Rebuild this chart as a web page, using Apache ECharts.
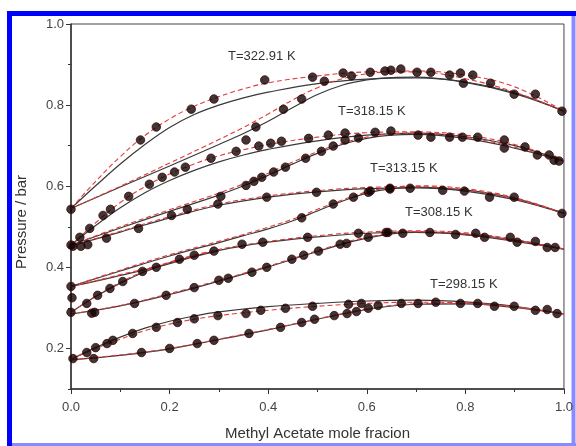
<!DOCTYPE html>
<html><head><meta charset="utf-8">
<script src="https://cdn.jsdelivr.net/npm/echarts@6/dist/echarts.min.js"></script>
<style>html,body{margin:0;padding:0;background:#fff}#c{width:576px;height:446px}</style>
</head><body><div id="c"></div>
<script>
// ---- axis ticks ----
const xTicks = [0, 0.2, 0.4, 0.6, 0.8, 1.0];
const yLabels = [0.2, 0.4, 0.6, 0.8, 1.0];
const yMinor = [0.1, 0.3, 0.5, 0.7, 0.9];
const tempLabels = ['T=322.91 K', 'T=318.15 K', 'T=313.15 K', 'T=308.15 K', 'T=298.15 K'];

// ---- T = 322.91 K ----
const pts322a = [[0,0.543],[0.141,0.714],[0.173,0.746],[0.244,0.790],[0.290,0.815],[0.393,0.862],[0.49,0.869],[0.607,0.881],[0.637,0.884],[0.669,0.889],[0.702,0.881],[0.730,0.881],[0.768,0.874],[0.79,0.879],[0.815,0.874],[0.942,0.827],[0.996,0.785]];
const sol322a = [[0,0.545],[0.05,0.601],[0.1,0.655],[0.15,0.703],[0.2,0.745],[0.25,0.777],[0.3,0.800],[0.35,0.818],[0.4,0.832],[0.5,0.853],[0.6,0.864],[0.7,0.867],[0.8,0.857],[0.9,0.83],[1.0,0.785]];
const das322a = [[0,0.545],[0.05,0.612],[0.1,0.673],[0.15,0.725],[0.2,0.766],[0.25,0.797],[0.3,0.821],[0.35,0.840],[0.4,0.855],[0.5,0.872],[0.6,0.882],[0.7,0.884],[0.8,0.874],[0.9,0.845],[1.0,0.785]];
const pts322b = [[0.355,0.714],[0.375,0.746],[0.431,0.79],[0.468,0.815],[0.514,0.859],[0.552,0.879],[0.569,0.872],[0.649,0.886],[0.796,0.854],[0.851,0.854],[0.899,0.827]];
const sol322b = [[0,0.545],[0.1,0.598],[0.2,0.65],[0.3,0.703],[0.35,0.730],[0.4,0.760],[0.45,0.794],[0.5,0.826],[0.55,0.849],[0.6,0.862],[0.65,0.868],[0.7,0.869],[0.8,0.856],[0.9,0.828],[1.0,0.785]];
const das322b = [[0,0.545],[0.1,0.600],[0.2,0.657],[0.3,0.715],[0.35,0.745],[0.4,0.778],[0.45,0.813],[0.5,0.843],[0.55,0.865],[0.6,0.877],[0.65,0.882],[0.7,0.882],[0.8,0.865],[0.9,0.832],[1.0,0.785]];

// ---- T = 318.15 K ----
const pts318a = [[0,0.455],[0.018,0.474],[0.038,0.496],[0.065,0.528],[0.08,0.543],[0.117,0.575],[0.159,0.605],[0.185,0.622],[0.21,0.635],[0.232,0.647],[0.284,0.669],[0.335,0.686],[0.381,0.699],[0.405,0.706],[0.427,0.711],[0.482,0.718],[0.522,0.726],[0.556,0.731],[0.617,0.733],[0.649,0.736],[0.704,0.726],[0.768,0.721],[0.825,0.721],[0.879,0.714],[0.921,0.697],[0.97,0.677],[0.99,0.662]];
const sol318a = [[0,0.455],[0.05,0.503],[0.1,0.547],[0.15,0.584],[0.2,0.614],[0.25,0.639],[0.3,0.66],[0.35,0.677],[0.4,0.691],[0.5,0.712],[0.6,0.726],[0.7,0.731],[0.8,0.722],[0.9,0.70],[1.0,0.662]];
const das318a = [[0,0.455],[0.05,0.51],[0.1,0.56],[0.15,0.599],[0.2,0.630],[0.25,0.655],[0.3,0.675],[0.35,0.690],[0.4,0.703],[0.5,0.721],[0.6,0.732],[0.7,0.734],[0.8,0.726],[0.9,0.703],[1.0,0.662]];
const pts318b = [[0.304,0.575],[0.355,0.602],[0.371,0.612],[0.387,0.622],[0.411,0.635],[0.435,0.647],[0.476,0.669],[0.508,0.686],[0.532,0.699],[0.556,0.714],[0.583,0.719],[0.73,0.721],[0.794,0.721],[0.879,0.694],[0.946,0.677],[0.98,0.664]];
const sol318b = [[0,0.455],[0.1,0.497],[0.2,0.538],[0.3,0.578],[0.35,0.601],[0.4,0.627],[0.45,0.655],[0.5,0.681],[0.55,0.703],[0.6,0.718],[0.65,0.726],[0.7,0.728],[0.8,0.718],[0.9,0.694],[1.0,0.662]];
const das318b = [[0,0.455],[0.1,0.50],[0.2,0.542],[0.3,0.583],[0.35,0.606],[0.4,0.632],[0.45,0.66],[0.5,0.685],[0.55,0.706],[0.6,0.721],[0.65,0.729],[0.7,0.731],[0.8,0.721],[0.9,0.696],[1.0,0.662]];

// ---- T = 313.15 K ----
const pts313a = [[0.004,0.452],[0.02,0.452],[0.034,0.456],[0.072,0.472],[0.137,0.496],[0.204,0.528],[0.236,0.543],[0.298,0.556],[0.397,0.573],[0.498,0.585],[0.603,0.585],[0.647,0.593],[0.688,0.595],[0.754,0.59],[0.798,0.588],[0.849,0.573],[0.899,0.573],[0.996,0.533]];
const sol313a = [[0,0.453],[0.1,0.487],[0.2,0.522],[0.3,0.553],[0.4,0.573],[0.5,0.586],[0.6,0.594],[0.7,0.596],[0.8,0.588],[0.9,0.567],[1.0,0.533]];
const das313a = [[0,0.453],[0.1,0.489],[0.2,0.525],[0.3,0.556],[0.4,0.576],[0.5,0.589],[0.6,0.597],[0.7,0.599],[0.8,0.591],[0.9,0.569],[1.0,0.533]];
const pts313b = [[0,0.353],[0.468,0.522],[0.532,0.556],[0.573,0.573],[0.607,0.588],[0.647,0.595]];
const sol313b = [[0,0.353],[0.1,0.391],[0.2,0.428],[0.3,0.461],[0.35,0.478],[0.4,0.495],[0.45,0.515],[0.5,0.539],[0.55,0.563],[0.6,0.583],[0.65,0.594],[0.7,0.598],[0.8,0.591],[0.9,0.57],[1.0,0.533]];
const das313b = [[0,0.353],[0.1,0.393],[0.2,0.431],[0.3,0.464],[0.35,0.481],[0.4,0.499],[0.45,0.519],[0.5,0.543],[0.55,0.566],[0.6,0.586],[0.65,0.597],[0.7,0.601],[0.8,0.594],[0.9,0.572],[1.0,0.533]];

// ---- T = 308.15 K ----
const pts308a = [[0,0.289],[0.032,0.311],[0.054,0.331],[0.079,0.348],[0.105,0.365],[0.145,0.39],[0.173,0.40],[0.22,0.42],[0.25,0.43],[0.29,0.44],[0.347,0.457],[0.389,0.462],[0.48,0.474],[0.583,0.484],[0.639,0.486],[0.673,0.484],[0.728,0.486],[0.78,0.481],[0.821,0.484],[0.891,0.474],[0.942,0.464],[0.982,0.449]];
const sol308a = [[0,0.289],[0.05,0.328],[0.1,0.361],[0.15,0.389],[0.2,0.411],[0.25,0.428],[0.3,0.442],[0.35,0.453],[0.4,0.462],[0.5,0.475],[0.6,0.484],[0.7,0.487],[0.8,0.482],[0.9,0.467],[1.0,0.445]];
const das308a = [[0,0.289],[0.05,0.329],[0.1,0.363],[0.15,0.391],[0.2,0.413],[0.25,0.43],[0.3,0.444],[0.35,0.455],[0.4,0.464],[0.5,0.478],[0.6,0.487],[0.7,0.49],[0.8,0.485],[0.9,0.469],[1.0,0.445]];
const pts308c = [[0.002,0.325]];
const sol308c = [[0,0.353],[0.05,0.366],[0.1,0.38],[0.15,0.394],[0.2,0.409],[0.25,0.426],[0.3,0.441]];
const das308c = [[0,0.353],[0.05,0.367],[0.1,0.382],[0.15,0.396],[0.2,0.411],[0.25,0.428],[0.3,0.443]];
const pts308b = [[0.042,0.287],[0.048,0.289],[0.129,0.311],[0.193,0.331],[0.25,0.35],[0.30,0.368],[0.319,0.373],[0.367,0.388],[0.397,0.40],[0.448,0.42],[0.472,0.43],[0.502,0.44],[0.546,0.457],[0.559,0.459],[0.603,0.474],[0.643,0.486],[0.839,0.474],[0.905,0.462],[0.966,0.449]];
const sol308b = [[0,0.285],[0.1,0.305],[0.2,0.333],[0.3,0.366],[0.4,0.401],[0.5,0.439],[0.6,0.472],[0.7,0.486],[0.8,0.48],[0.9,0.464],[1.0,0.445]];
const das308b = [[0,0.285],[0.1,0.306],[0.2,0.335],[0.3,0.368],[0.4,0.403],[0.5,0.441],[0.6,0.474],[0.7,0.488],[0.8,0.482],[0.9,0.466],[1.0,0.445]];

// ---- T = 298.15 K ----
const pts298a = [[0.004,0.175],[0.032,0.19],[0.05,0.202],[0.073,0.212],[0.085,0.22],[0.125,0.237],[0.173,0.252],[0.216,0.264],[0.25,0.273],[0.298,0.281],[0.355,0.286],[0.385,0.294],[0.435,0.299],[0.49,0.304],[0.563,0.309],[0.589,0.311],[0.67,0.311],[0.74,0.314],[0.79,0.311],[0.859,0.304],[0.942,0.294],[0.986,0.286]];
const sol298a = [[0,0.173],[0.05,0.202],[0.1,0.228],[0.15,0.25],[0.2,0.267],[0.25,0.28],[0.3,0.29],[0.4,0.303],[0.5,0.311],[0.6,0.317],[0.7,0.319],[0.8,0.315],[0.9,0.304],[1.0,0.285]];
const das298a = [[0,0.173],[0.05,0.200],[0.1,0.223],[0.15,0.244],[0.2,0.26],[0.25,0.272],[0.3,0.281],[0.4,0.294],[0.5,0.304],[0.6,0.311],[0.7,0.314],[0.8,0.312],[0.9,0.303],[1.0,0.285]];
const pts298b = [[0.046,0.175],[0.143,0.19],[0.2,0.2],[0.256,0.212],[0.29,0.22],[0.361,0.237],[0.425,0.252],[0.468,0.264],[0.494,0.272],[0.534,0.281],[0.56,0.286],[0.579,0.291],[0.603,0.299],[0.623,0.306],[0.704,0.311],[0.825,0.311],[0.899,0.304],[0.966,0.296]];
const sol298b = [[0,0.172],[0.1,0.183],[0.2,0.199],[0.3,0.222],[0.4,0.246],[0.5,0.272],[0.6,0.296],[0.7,0.309],[0.8,0.31],[0.9,0.301],[1.0,0.285]];
const das298b = [[0,0.172],[0.1,0.184],[0.2,0.2],[0.3,0.223],[0.4,0.247],[0.5,0.273],[0.6,0.297],[0.7,0.31],[0.8,0.311],[0.9,0.302],[1.0,0.285]];

const curveSets = [
  [pts322a, sol322a, das322a], [pts322b, sol322b, das322b],
  [pts318a, sol318a, das318a], [pts318b, sol318b, das318b],
  [pts313a, sol313a, das313a], [pts313b, sol313b, das313b],
  [pts308a, sol308a, das308a], [pts308c, sol308c, das308c], [pts308b, sol308b, das308b],
  [pts298a, sol298a, das298a], [pts298b, sol298b, das298b]
];

const series = [];
curveSets.forEach(function (c) {
  series.push({ type: 'line', data: c[1], showSymbol: false, smooth: 0.4,
    lineStyle: { color: '#3a3a3a', width: 1.2 }, z: 2, silent: true });
  series.push({ type: 'line', data: c[2], showSymbol: false, smooth: 0.4,
    lineStyle: { color: '#e23a3a', width: 1.1, type: [5, 3] }, z: 3, silent: true });
  series.push({ type: 'scatter', data: c[0], symbolSize: 8.5,
    itemStyle: { color: '#120404', borderColor: '#3e0a0a', borderWidth: 1 }, z: 4, silent: true });
});

const labelPos = [[228, 56], [338, 111], [370, 168], [405, 212], [430, 284]];
const graphics = [
  { type: 'line', shape: { x1: 9.5, y1: 11, x2: 9.5, y2: 446 }, style: { stroke: '#0000ff', lineWidth: 5 } },
  { type: 'line', shape: { x1: 7, y1: 13.5, x2: 576, y2: 13.5 }, style: { stroke: '#0000ff', lineWidth: 5 } },
  { type: 'line', shape: { x1: 573.5, y1: 16, x2: 573.5, y2: 446 }, style: { stroke: '#8a8aff', lineWidth: 4 } },
  { type: 'line', shape: { x1: 12, y1: 444.5, x2: 576, y2: 444.5 }, style: { stroke: '#8a8aff', lineWidth: 3 } },
  { type: 'text', x: 22, y: 222, rotation: Math.PI / 2,
    style: { text: 'Pressure / bar', fill: '#333', font: '15px "Liberation Sans", Arial, sans-serif', align: 'center', verticalAlign: 'middle' } }
];
tempLabels.forEach(function (t, i) {
  graphics.push({ type: 'text', x: labelPos[i][0], y: labelPos[i][1],
    style: { text: t, fill: '#333', font: '13px "Liberation Sans", Arial, sans-serif', verticalAlign: 'middle' } });
});

const chart = echarts.init(document.getElementById('c'), null, { renderer: 'canvas' });
chart.setOption({
  animation: false,
  backgroundColor: '#fff',
  grid: { left: 71, right: 10, top: 24, bottom: 57, show: true, borderColor: '#444', borderWidth: 1 },
  xAxis: {
    type: 'value', min: 0, max: 1, interval: 0.2,
    name: 'Methyl Acetate mole fracion', nameLocation: 'middle', nameGap: 37,
    nameTextStyle: { fontSize: 15, color: '#333', fontFamily: 'Liberation Sans' },
    axisLine: { lineStyle: { color: '#333', width: 1.5 } },
    axisTick: { show: true, length: 5, lineStyle: { color: '#333' } },
    minorTick: { show: true, splitNumber: 2, length: 3, lineStyle: { color: '#333' } },
    splitLine: { show: false },
    axisLabel: { color: '#444', fontSize: 13, fontFamily: 'Liberation Sans', margin: 12,
      customValues: xTicks, formatter: function (v) { return v.toFixed(1); } }
  },
  yAxis: [{
    type: 'value', min: 0.1, max: 1.0,
    axisLine: { show: true, lineStyle: { color: '#333', width: 1.5 } },
    axisTick: { show: true, length: 5, customValues: yLabels, lineStyle: { color: '#333' } },
    splitLine: { show: false },
    axisLabel: { color: '#444', fontSize: 13, fontFamily: 'Liberation Sans', margin: 7,
      customValues: yLabels, formatter: function (v) { return v.toFixed(1); } }
  }, {
    type: 'value', min: 0.1, max: 1.0, position: 'left',
    axisLine: { show: false },
    axisTick: { show: true, length: 3, customValues: yMinor, lineStyle: { color: '#333' } },
    splitLine: { show: false },
    axisLabel: { show: false }
  }],
  graphic: graphics,
  series: series
});
</script></body></html>
